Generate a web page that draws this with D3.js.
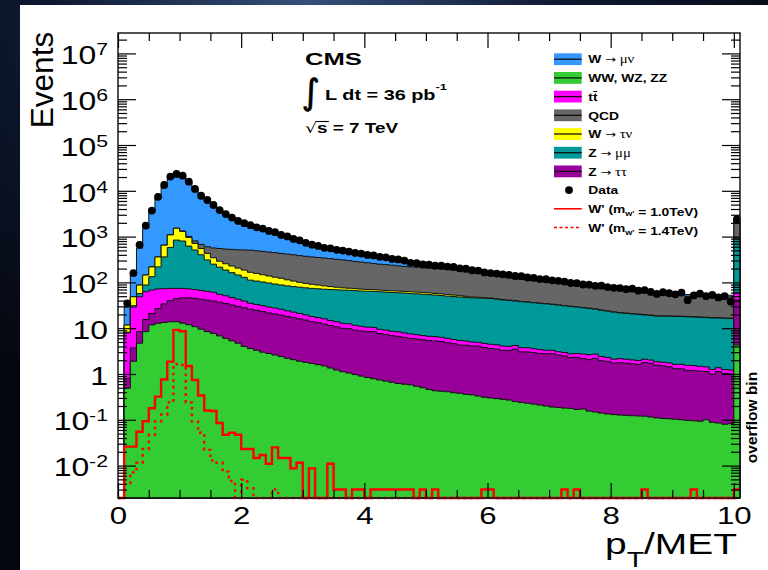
<!DOCTYPE html>
<html>
<head>
<meta charset="utf-8">
<script src="https://cdn.jsdelivr.net/npm/d3@7"></script>
<style>
  html, body { margin: 0; padding: 0; background: #070b16; }
  svg { display: block; }
</style>
</head>
<body>
<svg id="chart" width="768" height="570"></svg>
<script>
// ---- binning: lower edge of each 0.1-wide bin; the last bin holds the overflow ----
const binLow = [
  0.0, 0.1, 0.2, 0.3, 0.4, 0.5, 0.6, 0.7, 0.8, 0.9,
  1.0, 1.1, 1.2, 1.3, 1.4, 1.5, 1.6, 1.7, 1.8, 1.9,
  2.0, 2.1, 2.2, 2.3, 2.4, 2.5, 2.6, 2.7, 2.8, 2.9,
  3.0, 3.1, 3.2, 3.3, 3.4, 3.5, 3.6, 3.7, 3.8, 3.9,
  4.0, 4.1, 4.2, 4.3, 4.4, 4.5, 4.6, 4.7, 4.8, 4.9,
  5.0, 5.1, 5.2, 5.3, 5.4, 5.5, 5.6, 5.7, 5.8, 5.9,
  6.0, 6.1, 6.2, 6.3, 6.4, 6.5, 6.6, 6.7, 6.8, 6.9,
  7.0, 7.1, 7.2, 7.3, 7.4, 7.5, 7.6, 7.7, 7.8, 7.9,
  8.0, 8.1, 8.2, 8.3, 8.4, 8.5, 8.6, 8.7, 8.8, 8.9,
  9.0, 9.1, 9.2, 9.3, 9.4, 9.5, 9.6, 9.7, 9.8, 9.9,
  10.0
];
const binWidth = 0.1;

// ---- simulated backgrounds (events per bin) ----
const wmunu = [
  0, 17.3, 96, 472, 1355, 3180, 6640, 11850, 18400, 21500,
  19600, 14500, 10200, 7230, 5700, 4330, 3300, 2565, 2075, 1735,
  1440, 1245, 1110, 1005, 890, 785, 670, 585, 500, 435,
  368, 300, 270, 240, 220, 200, 180, 167, 153, 141,
  132, 123, 115, 100, 88, 76, 64, 54, 47, 42,
  39, 36, 34, 33, 31, 29, 27, 22, 20, 19,
  18, 17, 16, 15, 14, 14, 13, 12, 12, 11,
  11, 10, 10, 9, 9, 8, 8, 7.5, 7, 7,
  6.5, 6, 6, 6, 5.5, 5.5, 5, 5, 5, 4.8,
  4.7, 4.5, 4.5, 4.5, 4.4, 4.4, 4.4, 4.4, 4.4, 4.4,
  200
];
const qcd = [
  0, 0, 0, 0, 0, 0, 0, 0, 0, 5,
  30, 50, 95, 125, 170, 220, 260, 280, 297, 310,
  324, 339, 333, 328, 322, 315, 307, 301, 293, 284,
  277, 269, 262, 256, 249, 241, 234, 224, 214, 206,
  198, 190, 182, 177, 172, 166, 160, 155, 153, 150,
  146, 143, 140, 138, 132, 127, 120, 116, 110, 104,
  97, 92, 88, 84, 80, 77.5, 75.5, 72.6, 69.6, 67.6,
  65.6, 63.6, 61.6, 58.8, 56.6, 54.6, 52.7, 51.9, 51.1, 50.2,
  49.2, 48, 46.7, 45.9, 43.7, 42.3, 40.8, 38.8, 37, 36,
  34.6, 33.3, 31.9, 31.7, 31.6, 31.7, 31.7, 31.7, 31.9, 31.5,
  1165
];
const wtaunu = [
  0, 3.5, 17.6, 30.6, 57, 85, 142, 290, 510, 680,
  500, 340, 200, 150, 120, 95, 75, 69, 65, 60,
  57, 54, 50, 45, 41, 38, 35, 30, 26, 22,
  19, 17, 15, 13, 11, 9.5, 8, 7.4, 6.9, 6.4,
  6, 5.7, 5.4, 5.3, 5.2, 5.2, 5.1, 5.1, 5, 4.9,
  4.8, 4.6, 4.4, 4.2, 3.8, 3.3, 2.8, 2.3, 1.8, 1.3,
  1, 0.9, 0.8, 0.7, 0.6, 0.5, 0.4, 0.42, 0.35, 0.36,
  0.3, 0.31, 0.29, 0.3, 0.28, 0.3, 0.31, 0.3, 0.29, 0.3,
  0.3, 0.28, 0.3, 0.31, 0.3, 0.29, 0.3, 0.3, 0.28, 0.3,
  0.3, 0.29, 0.3, 0.3, 0.31, 0.3, 0.28, 0.3, 0.3, 0.3,
  5
];
const zmumu = [
  0, 0.3, 2, 8.4, 25, 65, 146, 287, 506, 766,
  726, 548, 440, 333, 246, 189, 160, 135, 116, 102,
  90, 77, 74, 71, 68, 64.5, 62, 60, 58.5, 57.5,
  56.5, 56, 55.5, 55, 55.2, 55.2, 55.2, 54.8, 54.4, 54,
  53.5, 53.3, 53.1, 52.4, 51.8, 51.2, 50.6, 50, 49.1, 48.1,
  47.3, 46.3, 45.3, 44, 43.3, 42.5, 41.7, 41, 40.7, 40.3,
  40, 38.6, 37.3, 36.2, 35.1, 34.2, 33.3, 32.4, 31.5, 30.7,
  29.8, 28.9, 28, 27.1, 26.2, 25.3, 24.4, 23.3, 22.2, 21.2,
  20.3, 19.5, 18.9, 18.5, 18, 17.4, 17, 16.5, 16.5, 16.5,
  16.4, 16.3, 16.2, 16, 15.8, 15.6, 15.4, 15.3, 15.1, 15,
  871
];
const ttbar = [
  0, 7.1, 25.3, 40.2, 47.1, 47, 45, 39, 34, 30,
  28, 26, 25, 24, 23, 22, 18, 16.5, 15, 13,
  11, 9, 8.5, 8, 7.5, 7, 6.6, 6, 5.5, 5,
  4.5, 4.1, 3.8, 3.7, 3.3, 3.1, 2.9, 2.7, 2.5, 2.3,
  2.2, 2, 1.8, 1.8, 1.7, 1.7, 1.6, 1.5, 1.4, 1.3,
  1.3, 1.3, 1.2, 1.2, 1.1, 1.1, 1, 0.9, 0.85, 0.85,
  0.86, 0.85, 0.8, 0.75, 0.7, 0.73, 0.7, 0.65, 0.6, 0.55,
  0.5, 0.47, 0.47, 0.47, 0.48, 0.55, 0.58, 0.52, 0.46, 0.42,
  0.38, 0.39, 0.38, 0.36, 0.35, 0.33, 0.3, 0.29, 0.3, 0.31,
  0.32, 0.33, 0.35, 0.34, 0.32, 0.3, 0.27, 0.24, 0.22, 0.22,
  18
];
const ztautau = [
  0, 0.31, 1.8, 3.7, 7.1, 9.2, 14.2, 20.6, 26.2, 30.1,
  33.1, 34.1, 34.2, 33.5, 32.6, 31.3, 30.2, 28.5, 26.7, 25.3,
  24, 22.4, 21.2, 20, 18.7, 17.9, 17, 15.8, 14.9, 14.1,
  13.2, 12.2, 11.6, 10.8, 10.1, 9.5, 8.8, 8.7, 8.1, 7.8,
  7.5, 7.6, 6.9, 6.6, 6.2, 6.0, 5.7, 5.4, 5.3, 5.1,
  4.9, 4.8, 4.7, 4.4, 4.2, 3.9, 3.9, 3.75, 3.75, 3.5,
  3.3, 3.2, 3.0, 3.0, 3.25, 2.8, 2.8, 2.7, 2.6, 2.55,
  2.6, 2.4, 2.3, 2.1, 2.15, 2.0, 1.9, 2.05, 1.8, 1.75,
  1.6, 1.65, 1.6, 1.55, 1.5, 1.65, 1.6, 1.45, 1.4, 1.33,
  1.2, 1.2, 1.1, 1.09, 1.06, 1.03, 0.9, 1.05, 0.95, 0.92,
  36.7
];
const diboson = [
  0, 0.49, 1.9, 4.7, 8.4, 11.8, 12.8, 13.4, 13.8, 13.9,
  12.9, 11.9, 10.8, 9.5, 8.4, 7.7, 6.8, 6.0, 5.3, 4.7,
  4.0, 3.6, 3.3, 3.0, 2.8, 2.6, 2.4, 2.2, 2.05, 1.9,
  1.8, 1.7, 1.6, 1.5, 1.35, 1.22, 1.12, 1.05, 0.97, 0.9,
  0.84, 0.79, 0.74, 0.7, 0.66, 0.62, 0.6, 0.58, 0.54, 0.5,
  0.46, 0.43, 0.42, 0.41, 0.39, 0.38, 0.36, 0.35, 0.33, 0.31,
  0.3, 0.29, 0.28, 0.27, 0.25, 0.24, 0.23, 0.22, 0.21, 0.2,
  0.19, 0.185, 0.18, 0.178, 0.168, 0.172, 0.155, 0.148, 0.14, 0.134,
  0.13, 0.127, 0.125, 0.123, 0.121, 0.12, 0.115, 0.11, 0.107, 0.105,
  0.103, 0.1, 0.097, 0.095, 0.093, 0.1, 0.088, 0.085, 0.08, 0.082,
  4.3
];

// ---- observed events ----
const observed = [
  0, 35, 160, 660, 1740, 3700, 7400, 13400, 20400, 23300,
  21400, 15800, 11000, 7800, 6300, 4900, 3800, 3100, 2600, 2200,
  1960, 1780, 1590, 1500, 1330, 1250, 1090, 1010, 890, 830,
  730, 665, 625, 570, 555, 515, 495, 470, 440, 425,
  398, 388, 362, 352, 326, 318, 300, 268, 262, 246,
  244, 232, 231, 222, 218, 203, 199, 184, 181, 165,
  160, 156, 150, 146, 138, 137, 128, 126, 118, 117,
  111, 108, 104, 97, 96, 90, 89, 84, 85, 79,
  76, 75, 71, 73, 66, 68, 62, 56, 61, 58,
  55, 60, 41, 52, 57, 50, 53, 47, 50, 38,
  2400
];

// ---- W' signal hypotheses ----
const wprime10 = [
  0, 0.026, 0.026, 0.055, 0.093, 0.178, 0.32, 0.76, 1.86, 9.2,
  8.6, 1.5, 0.74, 0.34, 0.16, 0.155, 0.085, 0.047, 0.052, 0.047,
  0.023, 0.023, 0.0146, 0.017, 0.011, 0.025, 0.0146, 0.0146, 0.0087, 0.0115,
  0, 0.0087, 0, 0, 0.011, 0.003, 0.003, 0, 0.003, 0.003,
  0, 0.003, 0.003, 0.003, 0.003, 0.003, 0.003, 0.003, 0, 0.003,
  0, 0.003, 0, 0, 0, 0, 0, 0, 0, 0.003,
  0.003, 0, 0, 0, 0, 0, 0, 0, 0, 0,
  0, 0, 0.003, 0, 0.003, 0, 0, 0, 0, 0,
  0, 0, 0, 0, 0, 0.003, 0, 0, 0, 0,
  0, 0, 0, 0.003, 0, 0, 0, 0, 0, 0,
  0.003
];
const wprime14 = [
  0, 0.0041, 0.0071, 0.0115, 0.023, 0.047, 0.092, 0.13, 0.24, 1.65,
  1.57, 0.24, 0.091, 0.052, 0.022, 0.013, 0.0115, 0.0074, 0.0046, 0,
  0.0049, 0.0032, 0, 0, 0, 0.003, 0, 0, 0, 0,
  0, 0, 0, 0, 0, 0, 0, 0, 0, 0,
  0, 0, 0, 0, 0, 0, 0, 0, 0, 0,
  0, 0, 0, 0, 0, 0, 0, 0, 0, 0,
  0, 0, 0, 0, 0, 0, 0, 0, 0, 0,
  0, 0, 0, 0, 0, 0, 0, 0, 0, 0,
  0, 0, 0, 0, 0, 0, 0, 0, 0, 0,
  0, 0, 0, 0, 0, 0, 0, 0, 0, 0,
  0
];

// ---- axes ----
const xMajorTicks = [0, 2, 4, 6, 8, 10];
const xTickLabels = ["0", "2", "4", "6", "8", "10"];
const xMinorTicks = [0.5, 1, 1.5, 2.5, 3, 3.5, 4.5, 5, 5.5, 6.5, 7, 7.5, 8.5, 9, 9.5];
const yMajorTicks = [1e-2, 1e-1, 1, 10, 1e2, 1e3, 1e4, 1e5, 1e6, 1e7];
const yTickLabels = ["10^-2", "10^-1", "1", "10", "10^2", "10^3", "10^4", "10^5", "10^6", "10^7"];

// stacking order, bottom to top
const processKeys = ["diboson", "ztautau", "ttbar", "zmumu", "wtaunu", "qcd", "wmunu"];
const processColors = ["#33cc33", "#990099", "#ff00ff", "#009999", "#ffff00", "#666666", "#3399ff"];

// legend rows: segments [text, style]  b = bold sans, a = arrow, g = greek, sub = subscript
const legendRows = [
  { kind: "fill", color: "#3399ff", parts: [["W ", "b"], ["\u2192", "a"], [" \u03bc\u03bd", "g"]] },
  { kind: "fill", color: "#33cc33", parts: [["WW, WZ, ZZ", "b"]] },
  { kind: "fill", color: "#ff00ff", parts: [["tt", "bar"]] },
  { kind: "fill", color: "#666666", parts: [["QCD", "b"]] },
  { kind: "fill", color: "#ffff00", parts: [["W ", "b"], ["\u2192", "a"], [" \u03c4\u03bd", "g"]] },
  { kind: "fill", color: "#009999", parts: [["Z ", "b"], ["\u2192", "a"], [" \u03bc\u03bc", "g"]] },
  { kind: "fill", color: "#990099", parts: [["Z ", "b"], ["\u2192", "a"], [" \u03c4\u03c4", "g"]] },
  { kind: "marker", color: "#000000", parts: [["Data", "b"]] },
  { kind: "line", color: "#ff0000", parts: [["W' (m", "b"], ["w'", "sub"], [" = 1.0TeV)", "b"]] },
  { kind: "dash", color: "#ff0000", parts: [["W' (m", "b"], ["w'", "sub"], [" = 1.4TeV)", "b"]] }
];

const SANS = "'Liberation Sans', Arial, Helvetica, sans-serif";
const SERIF = "'Liberation Serif', 'DejaVu Serif', serif";
const DEJAVU = "'DejaVu Sans', sans-serif";

const svg = d3.select("#chart");

// ---- backdrop and white canvas ----
const defs = svg.append("defs");
const glow = defs.append("radialGradient").attr("id", "sky")
  .attr("cx", "40%").attr("cy", "0%").attr("r", "75%");
glow.append("stop").attr("offset", "0%").attr("stop-color", "#34507a");
glow.append("stop").attr("offset", "45%").attr("stop-color", "#0e1830");
glow.append("stop").attr("offset", "100%").attr("stop-color", "#04070e");
svg.append("rect").attr("width", 768).attr("height", 570).attr("fill", "url(#sky)");
svg.append("rect").attr("x", 20).attr("y", 5).attr("width", 748).attr("height", 565).attr("fill", "#ffffff");

// ---- scales ----
const yMin = 0.00196, yMax = 2.79e7;
const xScale = d3.scaleLinear().domain([0, 10.1]).range([118, 740]);
const yScale = d3.scaleLog().domain([yMin, yMax]).range([498, 33]);
const yPos = v => yScale(Math.max(v, yMin));
const nBins = binLow.length;

function stepPoints(vals) {
  const pts = vals.map((v, i) => ({ x: binLow[i], v }));
  pts.push({ x: binLow[nBins - 1] + binWidth, v: vals[nBins - 1] });
  return pts;
}

// ---- stacked backgrounds ----
const seriesByKey = { diboson, ztautau, ttbar, zmumu, wtaunu, qcd, wmunu };
const rows = binLow.map((lo, i) => {
  const r = {};
  processKeys.forEach(k => { r[k] = seriesByKey[k][i]; });
  return r;
});
const layers = d3.stack().keys(processKeys)(rows);

const stepArea = d3.area().curve(d3.curveStepAfter)
  .x(d => xScale(d.x)).y0(yScale(yMin)).y1(d => yPos(d.v));

const histG = svg.append("g");
layers.slice().reverse().forEach(layer => {
  const tops = layer.map(d => d[1]);
  histG.append("path")
    .attr("d", stepArea(stepPoints(tops)))
    .attr("fill", processColors[processKeys.indexOf(layer.key)])
    .attr("stroke", "#111")
    .attr("stroke-width", 1)
    .attr("stroke-linejoin", "miter");
});

// ---- signal outlines ----
const stepLine = d3.line().curve(d3.curveStepAfter)
  .x(d => xScale(d.x)).y(d => yPos(d.v));
svg.append("path").attr("d", stepLine(stepPoints(wprime14)))
  .attr("fill", "none").attr("stroke", "#ff0000").attr("stroke-width", 2.4)
  .attr("stroke-dasharray", "2.6,4");
svg.append("path").attr("d", stepLine(stepPoints(wprime10)))
  .attr("fill", "none").attr("stroke", "#ff0000").attr("stroke-width", 2.4);

// ---- data points ----
svg.append("g").selectAll("circle")
  .data(observed.map((v, i) => ({ v, c: binLow[i] + binWidth / 2 })).filter(d => d.v > 0))
  .join("circle")
  .attr("cx", d => xScale(d.c))
  .attr("cy", d => yPos(d.v))
  .attr("r", 3.9)
  .attr("fill", "#000");

// ---- frame ----
svg.append("rect").attr("x", 118).attr("y", 33).attr("width", 622).attr("height", 465)
  .attr("fill", "none").attr("stroke", "#1a1a1a").attr("stroke-width", 1.5);

// ---- axes ----
const yMinorTicks = [];
yMajorTicks.concat([1e-3]).forEach(dec => {
  [2, 3, 4, 5, 6, 7, 8, 9].forEach(m => {
    const v = m * dec;
    if (v > yMin && v < yMax) yMinorTicks.push(v);
  });
});

function tidy(g) {
  g.select(".domain").remove();
  g.selectAll(".tick line").attr("stroke", "#000").attr("stroke-width", 1.2);
}

const axL = svg.append("g").attr("transform", "translate(118,0)")
  .call(d3.axisLeft(yScale).tickValues(yMajorTicks).tickSize(-18).tickPadding(10)
    .tickFormat(d => yTickLabels[yMajorTicks.indexOf(d)]));
tidy(axL);
axL.attr("font-family", SANS).attr("font-size", 25.5);
axL.selectAll(".tick text").each(function (d) {
  const lab = yTickLabels[yMajorTicks.indexOf(d)];
  const [base, expo] = lab.split("^");
  const t = d3.select(this).text(null)
    .attr("x", -8).attr("dy", "0.4em").attr("fill", "#000")
    .attr("transform", "scale(1.25,1)");
  t.append("tspan").text(base);
  if (expo) t.append("tspan").attr("dy", -9).attr("font-size", 17).text(expo);
});
tidy(svg.append("g").attr("transform", "translate(118,0)")
  .call(d3.axisLeft(yScale).tickValues(yMinorTicks).tickSize(-9).tickFormat("")));
tidy(svg.append("g").attr("transform", "translate(740,0)")
  .call(d3.axisRight(yScale).tickValues(yMajorTicks).tickSize(-18).tickFormat("")));
tidy(svg.append("g").attr("transform", "translate(740,0)")
  .call(d3.axisRight(yScale).tickValues(yMinorTicks).tickSize(-9).tickFormat("")));

const axB = svg.append("g").attr("transform", "translate(0,498)")
  .call(d3.axisBottom(xScale).tickValues(xMajorTicks).tickSize(-15).tickPadding(9)
    .tickFormat(d => xTickLabels[xMajorTicks.indexOf(d)]));
tidy(axB);
axB.attr("font-family", SANS).attr("font-size", 24);
axB.selectAll(".tick text").attr("fill", "#000").attr("transform", "scale(1.3,1)");
tidy(svg.append("g").attr("transform", "translate(0,498)")
  .call(d3.axisBottom(xScale).tickValues(xMinorTicks).tickSize(-8).tickFormat("")));
tidy(svg.append("g").attr("transform", "translate(0,33)")
  .call(d3.axisTop(xScale).tickValues(xMajorTicks).tickSize(-15).tickFormat("")));
tidy(svg.append("g").attr("transform", "translate(0,33)")
  .call(d3.axisTop(xScale).tickValues(xMinorTicks).tickSize(-8).tickFormat("")));

// ---- helper: text stretched horizontally to a given width ----
function fitted(x, y, width, build) {
  const g = svg.append("g");
  const t = g.append("text").attr("x", 0).attr("y", 0);
  build(t, g);
  const w = t.node().getBBox().width;
  g.attr("transform", `translate(${x},${y}) scale(${width / w},1)`);
  return { g, t };
}

// axis titles
svg.append("text")
  .attr("transform", "translate(53,80) rotate(-90)")
  .attr("text-anchor", "middle")
  .attr("font-family", SANS).attr("font-size", 31.5).attr("fill", "#000")
  .text("Events");

fitted(605, 553.5, 132, t => {
  t.attr("font-family", SANS).attr("font-size", 30).attr("fill", "#000");
  t.append("tspan").text("p");
  t.append("tspan").attr("dy", 13).attr("font-size", 22).text("T");
  t.append("tspan").attr("dy", -13).text("/MET");
});

svg.append("text")
  .attr("transform", "translate(757,417.5) rotate(-90)")
  .attr("text-anchor", "middle")
  .attr("font-family", SANS).attr("font-weight", "bold").attr("font-size", 15.5).attr("fill", "#000")
  .text("overflow bin");

// experiment / luminosity block
fitted(305, 65, 57, t => {
  t.attr("font-family", SANS).attr("font-weight", "bold").attr("font-size", 16.5).attr("fill", "#000").text("CMS");
});
svg.append("text").attr("x", 301.5).attr("y", 103.5)
  .attr("font-family", DEJAVU).attr("font-size", 35).attr("fill", "#000")
  .attr("stroke", "#000").attr("stroke-width", 0.7)
  .text("\u222b");
fitted(325, 100, 122, t => {
  t.attr("font-family", SANS).attr("font-weight", "bold").attr("font-size", 14).attr("fill", "#000");
  t.append("tspan").text("L dt = 36 pb");
  t.append("tspan").attr("dy", -10).attr("font-size", 9).text("-1");
});
{
  const { g, t } = fitted(305, 133, 94, t => {
    t.attr("font-family", SANS).attr("font-weight", "bold").attr("font-size", 14).attr("fill", "#000");
    t.append("tspan").attr("font-family", DEJAVU).attr("font-weight", "normal").text("\u221a");
    t.append("tspan").text("s = 7 TeV");
  });
  const ext = t.node().getExtentOfChar(1);
  g.append("line").attr("x1", ext.x - 1).attr("x2", ext.x + ext.width + 1)
    .attr("y1", -11.5).attr("y2", -11.5).attr("stroke", "#000").attr("stroke-width", 1.1);
}

// ---- legend ----
const legendG = svg.append("g");
legendRows.forEach((row, i) => {
  const cy = 59.2 + i * 18.7;
  if (row.kind === "fill") {
    legendG.append("rect").attr("x", 554).attr("y", cy - 5.9).attr("width", 27.7).attr("height", 11.8)
      .attr("fill", row.color);
    legendG.append("line").attr("x1", 554).attr("x2", 581.7).attr("y1", cy).attr("y2", cy)
      .attr("stroke", "#111").attr("stroke-width", 1.3);
  } else if (row.kind === "marker") {
    legendG.append("circle").attr("cx", 569).attr("cy", cy).attr("r", 3.9).attr("fill", "#000");
  } else {
    legendG.append("line").attr("x1", 554).attr("x2", 581.7).attr("y1", cy).attr("y2", cy)
      .attr("stroke", row.color).attr("stroke-width", 1.6)
      .attr("stroke-dasharray", row.kind === "dash" ? "3,2.5" : null);
  }
  const g = legendG.append("g").attr("transform", `translate(588.3,${cy + 4.2}) scale(1.29,1)`);
  const t = g.append("text").attr("font-family", SANS).attr("font-weight", "bold")
    .attr("font-size", 10.7).attr("fill", "#000");
  row.parts.forEach(([txt, style]) => {
    if (style === "b" || style === "bar") {
      t.append("tspan").text(txt);
    } else if (style === "a") {
      t.append("tspan").attr("font-family", DEJAVU).attr("font-weight", "normal").attr("font-size", 10).text(txt);
    } else if (style === "g") {
      t.append("tspan").attr("font-family", SERIF).attr("font-weight", "normal").attr("font-size", 11.5).text(txt);
    } else if (style === "sub") {
      t.append("tspan").attr("dy", 3).attr("font-size", 7).text(txt);
      t.append("tspan").attr("dy", -3).text("");
    }
  });
  if (row.parts[0][1] === "bar") {
    const ext = t.node().getExtentOfChar(1);
    g.append("line").attr("x1", ext.x + 0.3).attr("x2", ext.x + ext.width - 0.3)
      .attr("y1", -9.3).attr("y2", -9.3).attr("stroke", "#000").attr("stroke-width", 1);
  }
});
</script>
</body>
</html>
